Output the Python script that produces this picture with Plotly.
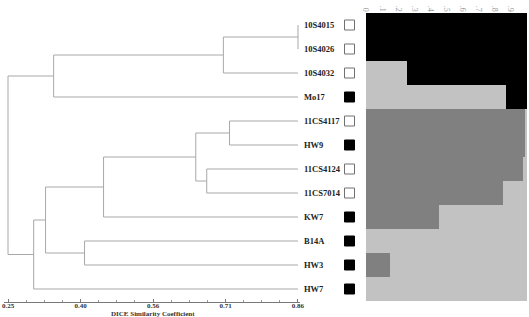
import plotly.graph_objects as go

# ---------------- data ----------------
labels = ["10S4015", "10S4026", "10S4032", "Mo17", "11CS4117", "HW9",
          "11CS4124", "11CS7014", "KW7", "B14A", "HW3", "HW7"]
group_filled = [False, False, False, True, False, True,
                False, False, True, True, True, True]

leaf_height = 0.86
# merges: (left node, right node, DICE similarity); new nodes numbered from 12
merge_left = [0, 12, 13, 4, 6, 15, 17, 9, 18, 20, 14]
merge_right = [1, 2, 3, 5, 7, 16, 8, 10, 19, 11, 21]
merge_sim = [0.86, 0.703, 0.346, 0.716, 0.668, 0.645, 0.451, 0.411, 0.329, 0.304, 0.25]

x_tickvals = [0.25, 0.4025, 0.555, 0.7075, 0.86]
x_ticktext = ["0.25", "0.40", "0.56", "0.71", "0.86"]

# STRUCTURE membership (stack order left -> right)
q_dark = [0, 0, 0, 0, 0.99, 0.99, 0.977, 0.849, 0.453, 0, 0.149, 0]
q_light = [0, 0, 0.255, 0.87, 0.01, 0.01, 0.023, 0.151, 0.547, 1, 0.851, 1]
q_black = [1, 1, 0.745, 0.13, 0, 0, 0, 0, 0, 0, 0, 0]
q_tickvals = [i / 10 for i in range(11)]
q_ticktext = ["0", ".1", ".2", ".3", ".4", ".5", ".6", ".7", ".8", ".9", "1"]

# ---------------- layout constants ----------------
W, H = 529, 317
n = len(labels)
row0_px, row_px = 25, 24
yr = [(H - row0_px) / row_px, -row0_px / row_px]

dend_px = (4, 300)
px_per_unit = 475.4
dend_range = [0.25 - (8 - dend_px[0]) / px_per_unit, 0.25 + (dend_px[1] - 8) / px_per_unit]

SERIF = "Liberation Serif"
LINE_COL = "#a8a8a8"

# ---------------- dendrogram geometry ----------------
node_x = {i: leaf_height for i in range(n)}
node_y = {i: float(i) for i in range(n)}
xs, ys = [], []
for k, (a, b, s) in enumerate(zip(merge_left, merge_right, merge_sim)):
    nid = n + k
    for c in (a, b):
        xs += [node_x[c], s, None]
        ys += [node_y[c], node_y[c], None]
    xs += [s, s, None]
    ys += [node_y[a], node_y[b], None]
    node_x[nid] = s
    node_y[nid] = (node_y[a] + node_y[b]) / 2

fig = go.Figure()
fig.add_trace(go.Scatter(x=xs, y=ys, mode="lines", xaxis="x", yaxis="y",
                         line=dict(color=LINE_COL, width=1), hoverinfo="skip",
                         showlegend=False, cliponaxis=False))

# ---------------- markers ----------------
rows = list(range(n))
fig.add_trace(go.Scatter(
    x=[0.75] * n, y=rows, mode="markers", xaxis="x3", yaxis="y",
    marker=dict(symbol="square", size=10,
                color=["#000000" if f else "#ffffff" for f in group_filled],
                line=dict(color=["#000000" if f else "#707070" for f in group_filled], width=1)),
    showlegend=False, cliponaxis=False))

for i, lab in enumerate(labels):
    fig.add_annotation(x=0.03, y=i, xref="x3", yref="y", text=lab, showarrow=False,
                       xanchor="left", yanchor="middle",
                       font=dict(family=SERIF, size=8.5, color="#222222", weight="bold"))

# ---------------- structure bars ----------------
for vals, col in ((q_dark, "#808080"), (q_light, "#c2c2c2"), (q_black, "#000000")):
    fig.add_trace(go.Bar(x=vals, y=rows, orientation="h", xaxis="x2", yaxis="y",
                         marker=dict(color=col, line=dict(width=0)), width=1,
                         showlegend=False))

fig.add_annotation(x=0.555, y=(H - 313.5) / H, xref="x", yref="paper",
                   text="DICE Similarity Coefficient", showarrow=False,
                   xanchor="center", yanchor="middle",
                   font=dict(family=SERIF, size=7, color="#333333", weight="bold"))

fig.update_layout(
    width=W, height=H, margin=dict(l=0, r=0, t=0, b=0, autoexpand=False),
    paper_bgcolor="white", plot_bgcolor="white",
    barmode="stack", bargap=0,
    xaxis=dict(domain=[dend_px[0] / W, dend_px[1] / W], range=dend_range,
               anchor="free", position=(H - 302) / H, automargin=False,
               showgrid=False, zeroline=False, showline=True, linecolor="#777777", linewidth=1,
               tickmode="array", tickvals=x_tickvals, ticktext=x_ticktext,
               ticks="inside", ticklen=3, tickcolor="#777777", ticklabelstandoff=-3,
               minor=dict(tickmode="linear", tick0=0.25, dtick=0.1525 / 4,
                          ticks="inside", ticklen=2, tickcolor="#999999"),
               tickfont=dict(family=SERIF, size=7, color="#333333", weight="bold")),
    xaxis2=dict(domain=[366 / W, 527 / W], range=[0, 1], side="top",
                anchor="free", position=(H - 13) / H, automargin=False,
                showgrid=False, zeroline=False, showline=False,
                tickmode="array", tickvals=q_tickvals, ticktext=q_ticktext,
                tickangle=90, ticks="",
                tickfont=dict(family=SERIF, size=8, color="#999999")),
    xaxis3=dict(domain=[300 / W, 366 / W], range=[0, 1], visible=False),
    yaxis=dict(domain=[0, 1], range=yr, visible=False, automargin=False),
)

fig.write_html("out.html")
